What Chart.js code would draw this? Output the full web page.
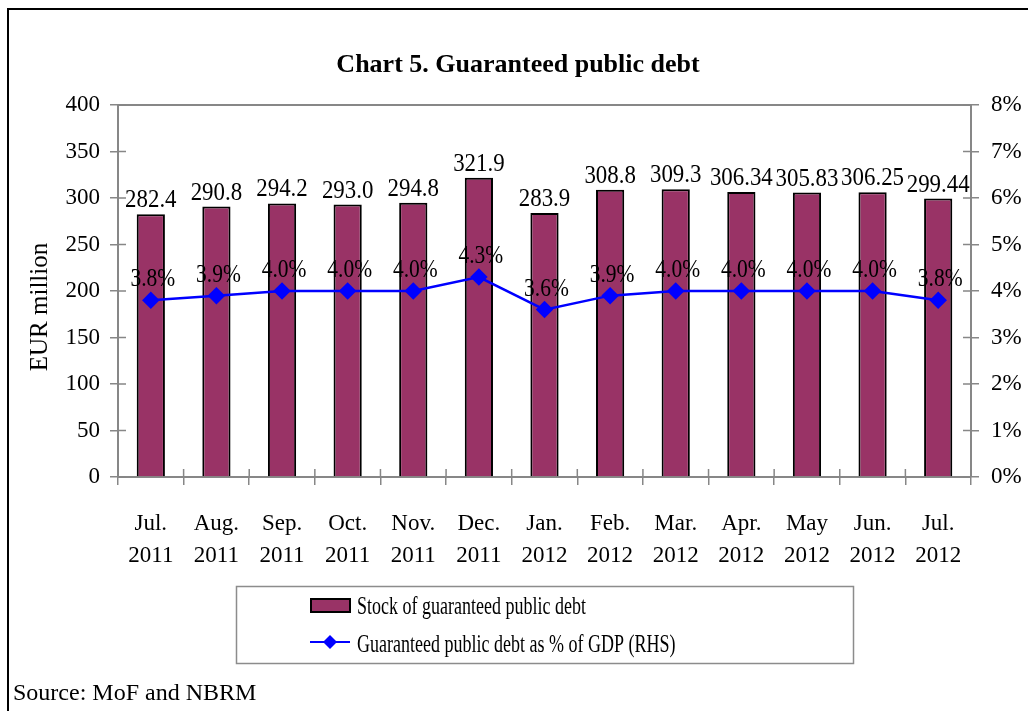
<!DOCTYPE html>
<html>
<head>
<meta charset="utf-8">
<title>Chart 5. Guaranteed public debt</title>
<script src="https://cdn.jsdelivr.net/npm/chart.js@4/dist/chart.umd.min.js"></script>
<style>
  html, body { margin: 0; padding: 0; background: #fff; }
  #wrap { width: 1028px; height: 711px; position: relative; }
</style>
</head>
<body>
<div id="wrap"><canvas id="debt"></canvas></div>
<script>
// months on the x axis (two lines each)
var months = [
    ['Jul.', '2011'], ['Aug.', '2011'], ['Sep.', '2011'], ['Oct.', '2011'],
    ['Nov.', '2011'], ['Dec.', '2011'], ['Jan.', '2012'], ['Feb.', '2012'],
    ['Mar.', '2012'], ['Apr.', '2012'], ['May', '2012'], ['Jun.', '2012'],
    ['Jul.', '2012']
];
// stock of guaranteed debt, EUR million
var stock = [282.4, 290.8, 294.2, 293.0, 294.8, 321.9, 283.9, 308.8, 309.3, 306.34, 305.83, 306.25, 299.44];
// decimals shown on each bar label
var stockDecimals = [1, 1, 1, 1, 1, 1, 1, 1, 1, 2, 2, 2, 2];
// guaranteed debt as % of GDP (right axis)
var pctGdp = [3.8, 3.9, 4.0, 4.0, 4.0, 4.3, 3.6, 3.9, 4.0, 4.0, 4.0, 4.0, 3.8];

var serif = '"Liberation Serif", "Times New Roman", serif';
var axisGray = '#878787';

function narrowText(ctx, text, x, y, size, sx, align, baseline) {
    ctx.save();
    ctx.font = size + 'px ' + serif;
    ctx.textAlign = align;
    ctx.textBaseline = baseline || 'alphabetic';
    ctx.fillStyle = '#000';
    ctx.translate(x, y);
    ctx.scale(sx, 1);
    ctx.fillText(text, 0, 0);
    ctx.restore();
}

// value labels, cross ticks, plot border, legend box, frame and source
var extras = {
    id: 'extras',
    afterDatasetsDraw: function (chart) {
        var ctx = chart.ctx;
        var bars = chart.getDatasetMeta(0).data;
        bars.forEach(function (bar, i) {
            narrowText(ctx, stock[i].toFixed(stockDecimals[i]), bar.x, bar.y - 7, 26, 0.88, 'center');
        });
        var pts = chart.getDatasetMeta(1).data;
        pts.forEach(function (pt, i) {
            narrowText(ctx, pctGdp[i].toFixed(1) + '%', pt.x + 2, pt.y - 14, 25, 0.86, 'center');
        });
    },
    afterDraw: function (chart) {
        var ctx = chart.ctx;
        var a = chart.chartArea;
        var sy = chart.scales.y, sy1 = chart.scales.y1;

        ctx.save();
        ctx.strokeStyle = axisGray;
        ctx.lineWidth = 2;
        // top edge of the plot area
        ctx.beginPath();
        ctx.moveTo(a.left, a.top);
        ctx.lineTo(a.right, a.top);
        ctx.stroke();
        // inner half of the tick marks
        ctx.lineWidth = 1.5;
        ctx.beginPath();
        sy.ticks.forEach(function (t) {
            var y = sy.getPixelForValue(t.value);
            ctx.moveTo(a.left, y); ctx.lineTo(a.left + 8, y);
        });
        sy1.ticks.forEach(function (t) {
            var y = sy1.getPixelForValue(t.value);
            ctx.moveTo(a.right - 8, y); ctx.lineTo(a.right, y);
        });
        for (var i = 0; i <= months.length; i++) {
            var x = a.left + (a.right - a.left) * i / months.length;
            ctx.moveTo(x, a.bottom - 8); ctx.lineTo(x, a.bottom);
        }
        ctx.stroke();

        // left axis title
        ctx.save();
        ctx.translate(40, 307);
        ctx.rotate(-Math.PI / 2);
        narrowText(ctx, 'EUR million', 0, 0, 25, 1, 'center', 'middle');
        ctx.restore();

        // legend
        var ds = chart.data.datasets;
        ctx.lineWidth = 1.5;
        ctx.strokeStyle = '#8c8c8c';
        ctx.strokeRect(236.5, 586.5, 617, 77);

        ctx.fillStyle = ds[0].backgroundColor;
        ctx.fillRect(311, 599, 39, 13);
        ctx.strokeStyle = '#000';
        ctx.lineWidth = 2;
        ctx.strokeRect(311, 599, 39, 13);
        narrowText(ctx, ds[0].label, 357, 614, 25, 0.72, 'left');

        ctx.strokeStyle = ds[1].borderColor;
        ctx.lineWidth = 2;
        ctx.beginPath();
        ctx.moveTo(310, 642); ctx.lineTo(350, 642);
        ctx.stroke();
        ctx.fillStyle = ds[1].borderColor;
        ctx.beginPath();
        ctx.moveTo(330, 635); ctx.lineTo(337, 642); ctx.lineTo(330, 649); ctx.lineTo(323, 642);
        ctx.closePath();
        ctx.fill();
        narrowText(ctx, ds[1].label, 357, 652, 25, 0.72, 'left');

        // outer frame (top and left edge)
        ctx.strokeStyle = '#000';
        ctx.lineWidth = 2;
        ctx.beginPath();
        ctx.moveTo(1028, 9); ctx.lineTo(8, 9); ctx.lineTo(8, 711);
        ctx.stroke();

        narrowText(ctx, 'Source: MoF and NBRM', 13, 700, 24, 1, 'left');
        ctx.restore();
    }
};

var debtChart = new Chart(document.getElementById('debt'), {
    type: 'bar',
    data: {
        labels: months,
        datasets: [
            {
                type: 'bar',
                label: 'Stock of guaranteed public debt',
                data: stock,
                yAxisID: 'y',
                backgroundColor: '#993366',
                borderColor: '#000000',
                borderWidth: 2,
                barPercentage: 0.43,
                categoryPercentage: 1,
                order: 1
            },
            {
                type: 'line',
                label: 'Guaranteed public debt as % of GDP (RHS)',
                data: pctGdp,
                yAxisID: 'y1',
                borderColor: '#0000ff',
                backgroundColor: '#0000ff',
                borderWidth: 2.5,
                pointStyle: 'rectRot',
                pointRadius: 7,
                pointBackgroundColor: '#0000ff',
                pointBorderColor: '#0000ff',
                tension: 0,
                order: 0
            }
        ]
    },
    options: {
        responsive: true,
        maintainAspectRatio: false,
        animation: false,
        layout: { padding: { left: 8, right: 0, top: 10, bottom: 0 } },
        plugins: {
            legend: { display: false },
            tooltip: { enabled: false },
            title: {
                display: true,
                text: 'Chart 5. Guaranteed public debt',
                color: '#000',
                font: { family: serif, size: 26, weight: 'bold', lineHeight: 1.2 },
                padding: { top: 40, bottom: 23.8 }
            }
        },
        scales: {
            x: {
                grid: { display: true, drawOnChartArea: false, offset: true, tickLength: 8, color: axisGray, lineWidth: 1.5 },
                border: { color: axisGray, width: 2 },
                ticks: { color: '#000', padding: 23, maxRotation: 0, autoSkip: false, font: { family: serif, size: 23, lineHeight: 1.4 } },
                afterFit: function (s) { s.height = 234; }
            },
            y: {
                position: 'left',
                min: 0,
                max: 400,
                ticks: { stepSize: 50, color: '#000', padding: 10, font: { family: serif, size: 23 } },
                grid: { drawOnChartArea: false, tickLength: 8, color: axisGray, lineWidth: 1.5 },
                border: { color: axisGray, width: 2 },
                afterFit: function (s) { s.width = 110; }
            },
            y1: {
                position: 'right',
                min: 0,
                max: 8,
                ticks: {
                    stepSize: 1, color: '#000', padding: 12, font: { family: serif, size: 23 },
                    callback: function (v) { return v + '%'; }
                },
                grid: { drawOnChartArea: false, tickLength: 8, color: axisGray, lineWidth: 1.5 },
                border: { color: axisGray, width: 2 },
                afterFit: function (s) { s.width = 57; }
            }
        }
    },
    plugins: [extras]
});
</script>
</body>
</html>
